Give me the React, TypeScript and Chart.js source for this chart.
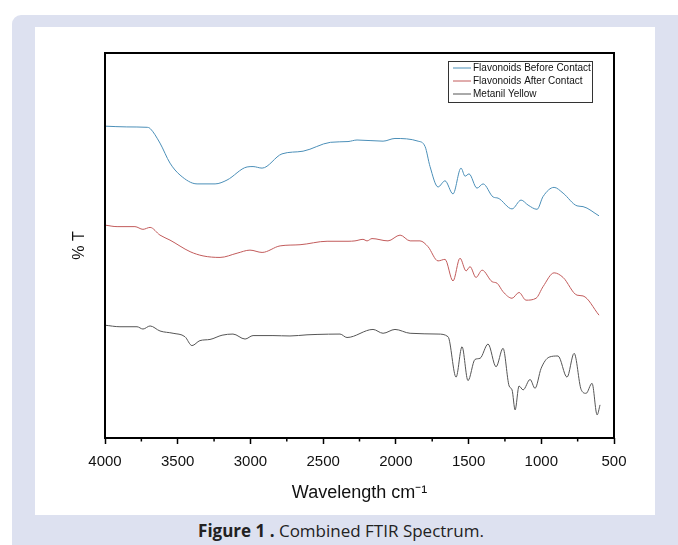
import React, { useEffect, useRef } from "react";
import { Chart, registerables } from "chart.js";

Chart.register(...registerables);

// Tick labels (wavenumber, cm-1)
const xTicks = [4000, 3500, 3000, 2500, 2000, 1500, 1000, 500];
const minorTicks = [3750, 3250, 2750, 2250, 1750, 1250, 750];

// Flavonoids Before Contact
const beforeWn = [4000, 3850, 3711, 3690, 3622, 3553, 3484, 3367, 3243, 3161, 3023, 2982, 2920, 2783, 2638, 2450, 2329, 2267, 2088, 2006, 1847, 1799, 1765, 1710, 1662, 1607, 1552, 1524, 1497, 1442, 1400, 1331, 1297, 1201, 1139, 1091, 1029, 988, 912, 850, 754, 713, 603];
const beforeT = [81.0, 80.8, 80.7, 80.4, 76.6, 71.4, 68.3, 66.0, 66.0, 67.0, 70.4, 70.5, 70.1, 73.8, 74.5, 76.8, 77.0, 77.4, 77.1, 77.8, 77.1, 75.7, 70.5, 65.2, 66.8, 63.4, 70.1, 68.0, 68.6, 64.9, 66.0, 62.6, 62.3, 59.5, 61.8, 60.5, 59.4, 62.7, 65.1, 63.6, 60.3, 60.1, 57.7];

// Flavonoids After Contact
const afterWn = [4000, 3917, 3794, 3739, 3690, 3622, 3553, 3415, 3326, 3209, 3092, 3003, 2920, 2796, 2659, 2473, 2329, 2281, 2226, 2198, 2164, 2054, 1971, 1902, 1834, 1779, 1710, 1662, 1607, 1559, 1517, 1490, 1449, 1407, 1338, 1304, 1263, 1201, 1153, 1105, 1036, 988, 912, 850, 754, 713, 603];
const afterT = [55.3, 54.9, 54.9, 54.2, 54.7, 52.7, 51.4, 48.4, 47.3, 46.9, 48.0, 48.8, 48.2, 49.9, 50.2, 51.1, 51.1, 51.2, 51.6, 51.2, 51.8, 51.2, 52.7, 51.2, 51.2, 49.7, 46.0, 46.4, 40.8, 46.7, 43.4, 44.5, 41.7, 43.6, 40.6, 40.2, 38.0, 36.3, 37.8, 35.8, 36.3, 39.3, 42.9, 41.7, 37.1, 36.9, 31.9];

// Metanil Yellow
const dyeWn = [4000, 3897, 3780, 3739, 3690, 3622, 3532, 3450, 3402, 3347, 3278, 3195, 3120, 3037, 2982, 2845, 2728, 2611, 2542, 2384, 2336, 2157, 2088, 2006, 1902, 1710, 1641, 1586, 1545, 1504, 1456, 1421, 1366, 1311, 1263, 1221, 1201, 1180, 1153, 1125, 1077, 1043, 1001, 946, 885, 823, 774, 726, 692, 651, 616, 596];
const dyeT = [29.3, 28.9, 28.9, 28.3, 29.1, 27.8, 27.2, 26.3, 24.0, 25.3, 25.6, 26.7, 27.0, 25.7, 26.6, 26.6, 26.5, 26.8, 26.9, 27.0, 26.1, 28.2, 27.2, 28.2, 27.2, 27.0, 26.3, 15.8, 23.7, 14.9, 20.4, 20.7, 24.4, 18.5, 23.3, 13.5, 12.5, 7.3, 13.5, 12.5, 15.2, 12.9, 18.1, 21.0, 21.3, 15.8, 22.0, 12.6, 11.6, 14.2, 6.0, 8.6];

const seriesLabels = ["Flavonoids Before Contact", "Flavonoids After Contact", "Metanil Yellow"];
const seriesColors = ["#4b8fb8", "#c25b5b", "#555555"];

const FONT = "'Liberation Sans', Arial, sans-serif";

const toPoints = (xs: number[], ys: number[]) => xs.map((x, i) => ({ x, y: ys[i] }));

const framePlugin = {
  id: "frameLegend",
  afterDraw(chart: any) {
    const { ctx, chartArea } = chart;
    const { left, right, top, bottom } = chartArea;
    const xs = chart.scales.x;
    ctx.save();
    // minor ticks
    ctx.strokeStyle = "#000";
    ctx.lineWidth = 1.5;
    minorTicks.forEach((v) => {
      const px = xs.getPixelForValue(v);
      ctx.beginPath();
      ctx.moveTo(px, bottom);
      ctx.lineTo(px, bottom + 3.5);
      ctx.stroke();
    });
    // frame
    ctx.lineWidth = 2;
    ctx.strokeRect(left, top, right - left, bottom - top);
    // legend box
    const bw = 144, bh = 41;
    const bx = right - 22 - bw;
    const by = top + 8;
    ctx.lineWidth = 1;
    ctx.strokeStyle = "#333";
    ctx.fillStyle = "#fff";
    ctx.fillRect(bx, by, bw, bh);
    ctx.strokeRect(bx + 0.5, by + 0.5, bw, bh);
    ctx.font = `10px ${FONT}`;
    ctx.textBaseline = "middle";
    chart.data.datasets.forEach((ds: any, i: number) => {
      const ry = by + 7 + i * 13;
      ctx.strokeStyle = ds.borderColor;
      ctx.lineWidth = 1;
      ctx.beginPath();
      ctx.moveTo(bx + 5, ry);
      ctx.lineTo(bx + 23, ry);
      ctx.stroke();
      ctx.fillStyle = "#111";
      ctx.fillText(ds.label, bx + 25, ry);
    });
    ctx.restore();
  },
};

export default function App() {
  const ref = useRef<HTMLCanvasElement | null>(null);

  useEffect(() => {
    if (!ref.current) return;
    const chart = new Chart(ref.current, {
      type: "line",
      data: {
        datasets: [
          { label: seriesLabels[0], data: toPoints(beforeWn, beforeT), borderColor: seriesColors[0] },
          { label: seriesLabels[1], data: toPoints(afterWn, afterT), borderColor: seriesColors[1] },
          { label: seriesLabels[2], data: toPoints(dyeWn, dyeT), borderColor: seriesColors[2] },
        ].map((d) => ({
          ...d,
          borderWidth: 1,
          pointRadius: 0,
          fill: false,
          cubicInterpolationMode: "monotone" as const,
        })),
      },
      options: {
        animation: false,
        responsive: false,
        devicePixelRatio: 1,
        layout: { padding: { left: 0, top: 26, right: 41, bottom: 0 } },
        plugins: { legend: { display: false }, tooltip: { enabled: false } },
        scales: {
          x: {
            type: "linear",
            reverse: true,
            min: 500,
            max: 4000,
            afterBuildTicks: (s: any) => {
              s.ticks = xTicks.map((v) => ({ value: v }));
            },
            ticks: {
              font: { family: FONT, size: 15 },
              color: "#111",
              padding: 9,
              maxRotation: 0,
              callback: (v: any) => String(v),
            },
            grid: { drawOnChartArea: false, tickLength: 6, tickColor: "#000", tickWidth: 1.5 },
            border: { display: false },
            title: {
              display: true,
              text: "Wavelength cm⁻¹",
              font: { family: FONT, size: 18 },
              color: "#111",
              padding: { top: 4, bottom: 11 },
            },
            afterFit: (s: any) => {
              s.height = 77;
            },
          },
          y: {
            min: 0,
            max: 100,
            ticks: { display: false },
            grid: { display: false },
            border: { display: false },
            title: {
              display: true,
              text: "% T",
              font: { family: FONT, size: 16 },
              color: "#111",
              padding: { top: 35, bottom: 0 },
            },
            afterFit: (s: any) => {
              s.width = 70;
            },
          },
        },
      },
      plugins: [framePlugin],
    });
    return () => chart.destroy();
  }, []);

  return (
    <div style={{ position: "absolute", left: 0, top: 0, width: 678, height: 545, overflow: "hidden", background: "#fff" }}>
      <div
        style={{
          position: "absolute",
          left: 12,
          top: 15,
          width: 666,
          height: 530,
          background: "#dde1f0",
          borderTopLeftRadius: 9,
        }}
      />
      <div style={{ position: "absolute", left: 35, top: 27, width: 620, height: 488, background: "#fff" }}>
        <canvas ref={ref} width={620} height={488} style={{ display: "block", width: 620, height: 488 }} />
      </div>
      <div
        style={{
          position: "absolute",
          left: 12,
          top: 519,
          width: 658,
          textAlign: "center",
          fontFamily: "'Open Sans', 'Noto Sans', sans-serif",
          fontSize: 17,
          lineHeight: "24px",
          color: "#222",
        }}
      >
        <b>Figure 1 .</b> Combined FTIR Spectrum.
      </div>
    </div>
  );
}
